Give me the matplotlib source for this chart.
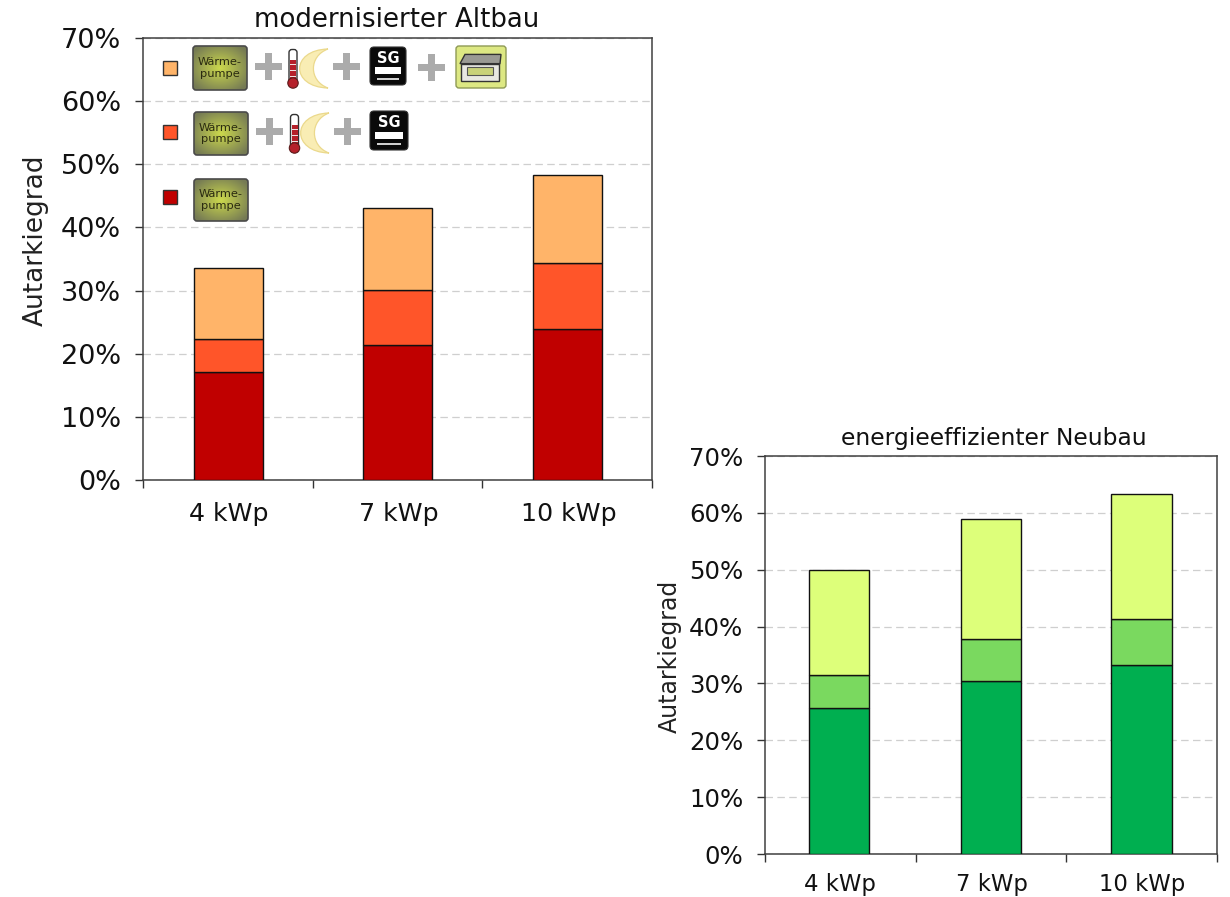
import numpy as np
import matplotlib
matplotlib.use("Agg")
import matplotlib.pyplot as plt
from matplotlib.patches import FancyBboxPatch, Rectangle, Circle, PathPatch, Polygon
from matplotlib.path import Path

W, H = 1230, 897
plt.rcParams["font.family"] = ["DejaVu Sans"]

categories = ["4 kWp", "7 kWp", "10 kWp"]
y_ticks = [0, 10, 20, 30, 40, 50, 60, 70]

# cumulative self-sufficiency levels, in percent
altbau_base = [17.1, 21.4, 23.9]
altbau_mid = [22.3, 30.1, 34.4]
altbau_top = [33.6, 43.1, 48.3]
neubau_base = [25.6, 30.5, 33.3]
neubau_mid = [31.5, 37.8, 41.4]
neubau_top = [50.0, 59.0, 63.4]

altbau_colors = ["#C00000", "#FF5529", "#FFB469"]
neubau_colors = ["#00AF50", "#7AD95F", "#DDFF7A"]

fig = plt.figure(figsize=(W / 100, H / 100), dpi=100, facecolor="white")


def panel(left, right, top, bottom, levels, colors, centers, bar_w, title,
          tick_fs, label_fs, ylab_fs, title_fs, ylab_xy, title_y, label_px, tick_pad):
    ax = fig.add_axes([left / W, 1 - bottom / H, (right - left) / W, (bottom - top) / H])
    ax.set_xlim(left, right)
    ax.set_ylim(0, 70)
    prev = np.zeros(3)
    for lev, col in zip(levels, colors):
        lev = np.array(lev)
        ax.bar(centers, lev - prev, bottom=prev, width=bar_w, color=col,
               edgecolor="#111111", linewidth=1.0, zorder=3)
        prev = lev
    ax.set_yticks(y_ticks)
    ax.set_yticklabels([f"{v}%" for v in y_ticks], fontsize=tick_fs, color="#111111")
    ax.set_xticks(np.linspace(left, right, 4))
    ax.set_xticklabels([])
    for c, lab in zip(centers, categories):
        ax.annotate(lab, (c, 0), xytext=(0.7, -label_px * 0.72), textcoords="offset points",
                    ha="center", va="center", fontsize=label_fs, color="#111111")
    ax.tick_params(axis="y", length=5.5, width=1.0, color="#333333", pad=tick_pad)
    ax.tick_params(axis="x", length=6, width=1.0, color="#333333")
    ax.grid(axis="y", color="#CFCFCF", linestyle=(0, (6, 3.5)), linewidth=0.9, zorder=1)
    for s in ax.spines.values():
        s.set_color("#404040")
        s.set_linewidth(1.1)
    ax.set_axisbelow(True)
    fig.text(ylab_xy[0] / W, 1 - ylab_xy[1] / H, "Autarkiegrad", rotation=90,
             ha="center", va="center", fontsize=ylab_fs, color="#222222")
    fig.text(title_y[0] / W, 1 - title_y[1] / H, title, ha="center", va="center",
             fontsize=title_fs, color="#111111")
    return ax


panel(143, 652, 38, 480, [altbau_base, altbau_mid, altbau_top], altbau_colors,
      [228, 398, 568], 69, "modernisierter Altbau", 19.5, 18.2, 19, 18.7,
      (36, 240), (397, 20), 34, 10.5)
panel(765, 1217, 456, 854, [neubau_base, neubau_mid, neubau_top], neubau_colors,
      [839, 991, 1141.5], 60.5, "energieeffizienter Neubau", 17.6, 16.4, 17, 16.8,
      (670, 656), (994, 438), 30, 10)

# Overlay in pixel coordinates for the hand-drawn key
ov = fig.add_axes([0, 0, 1, 1], facecolor="none")
ov.set_xlim(0, W)
ov.set_ylim(H, 0)
ov.axis("off")


def swatch(x, y, color):
    ov.add_patch(Rectangle((x, y), 14, 14, facecolor=color, edgecolor="#333333", linewidth=1.0))


def heat_pump(x0, y0, x1, y1):
    yy, xx = np.mgrid[-1:1:60j, -1:1:70j]
    r = np.clip(np.sqrt(xx ** 2 + yy ** 2) / 1.25, 0, 1)[..., None]
    inner = np.array([0.80, 0.85, 0.30])
    outer = np.array([0.46, 0.48, 0.33])
    img = inner * (1 - r) + outer * r
    box = FancyBboxPatch((x0 + 2, y0 + 2), x1 - x0 - 4, y1 - y0 - 4,
                         boxstyle="round,pad=2,rounding_size=3",
                         facecolor="none", edgecolor="#4A4A4A", linewidth=1.2, zorder=3)
    ov.add_patch(box)
    im = ov.imshow(img, extent=(x0, x1, y1, y0), aspect="auto", zorder=2)
    im.set_clip_path(box)
    ov.text((x0 + x1) / 2, (y0 + y1) / 2, "Wärme-\npumpe", ha="center", va="center",
            fontsize=8.2, color="#2A2A10", linespacing=1.2, zorder=4)


def plus(cx, cy, size=27):
    ov.add_patch(Rectangle((cx - size / 2, cy - 3.5), size, 7, facecolor="#ABABAB", edgecolor="none"))
    ov.add_patch(Rectangle((cx - 3.5, cy - size / 2), 7, size, facecolor="#ABABAB", edgecolor="none"))


def thermometer(cx, y0, y1):
    ov.add_patch(FancyBboxPatch((cx - 2.5, y0 + 2), 5, y1 - y0 - 8,
                                boxstyle="round,pad=1.5,rounding_size=3",
                                facecolor="white", edgecolor="#333333", linewidth=1))
    ov.add_patch(Rectangle((cx - 3, y0 + 11), 6, y1 - y0 - 14, facecolor="#B5202A", edgecolor="none"))
    for k in range(3):
        ov.add_patch(Rectangle((cx - 3, y0 + 15 + 6 * k), 6, 1.4, facecolor="#F0E0E0", edgecolor="none"))
    ov.add_patch(Circle((cx, y1 - 5), 5.2, facecolor="#B5202A", edgecolor="#5A1A1A", linewidth=0.8))


def moon(x0, y0, x1, y1):
    w = x1 - x0
    verts = [(x1, y0), (x0 - 0.4 * w, y0 + 1), (x0 - 0.4 * w, y1 - 1), (x1, y1),
             (x0 + 0.28 * w, y1 - 7), (x0 + 0.28 * w, y0 + 7), (x1, y0)]
    codes = [Path.MOVETO, Path.CURVE4, Path.CURVE4, Path.CURVE4,
             Path.CURVE4, Path.CURVE4, Path.CURVE4]
    ov.add_patch(PathPatch(Path(verts, codes), facecolor="#F9EDB4", edgecolor="#EBD98C", linewidth=0.9))


def smart_grid(x0, y0, x1, y1):
    w, h = x1 - x0, y1 - y0
    ov.add_patch(FancyBboxPatch((x0 + 3, y0 + 3), w - 6, h - 6,
                                boxstyle="round,pad=3,rounding_size=4",
                                facecolor="#0A0A0A", edgecolor="#333333", linewidth=0.8))
    ov.text((x0 + x1) / 2, y0 + h * 0.30, "SG", ha="center", va="center", fontsize=10.5,
            fontweight="bold", color="white")
    ov.add_patch(Rectangle((x0 + 5, y0 + h * 0.53), w - 10, h * 0.19, facecolor="white", edgecolor="none"))
    ov.add_patch(Rectangle((x0 + 7, y0 + h * 0.82), w - 14, 1.6, facecolor="#D0D0D0", edgecolor="none"))


def battery(x0, y0, x1, y1):
    w, h = x1 - x0, y1 - y0
    ov.add_patch(FancyBboxPatch((x0 + 2, y0 + 2), w - 4, h - 4,
                                boxstyle="round,pad=2,rounding_size=3",
                                facecolor="#DDE883", edgecolor="#8E9A55", linewidth=1))
    ov.add_patch(Polygon([(x0 + 4, y0 + h * 0.42), (x0 + 9, y0 + h * 0.2), (x1 - 5, y0 + h * 0.2),
                          (x1 - 6, y0 + h * 0.42)], closed=True,
                         facecolor="#9A9A94", edgecolor="#333333", linewidth=1))
    ov.add_patch(Rectangle((x0 + 5, y0 + h * 0.42), w - 12, h * 0.42,
                           facecolor="#E8E8E2", edgecolor="#333333", linewidth=1))
    ov.add_patch(Rectangle((x0 + 11, y0 + h * 0.5), w - 24, h * 0.2,
                           facecolor="#C9D27A", edgecolor="#555555", linewidth=0.8))


# Key, top row to bottom row
swatch(163, 61, altbau_colors[2])
heat_pump(193, 46, 247, 90)
plus(268, 67)
thermometer(293, 49, 88)
moon(301, 49, 328, 88)
plus(346, 67)
smart_grid(370, 47, 406, 85)
plus(431, 68)
battery(456, 46, 506, 88)

swatch(163, 125, altbau_colors[1])
heat_pump(194, 112, 248, 155)
plus(269, 132)
thermometer(294.5, 114, 153)
moon(302, 113, 329, 153)
plus(347, 132)
smart_grid(370, 111, 408, 150)

swatch(163, 190, altbau_colors[0])
heat_pump(194, 179, 248, 221)

fig.savefig("out.png", dpi=100, facecolor="white")
